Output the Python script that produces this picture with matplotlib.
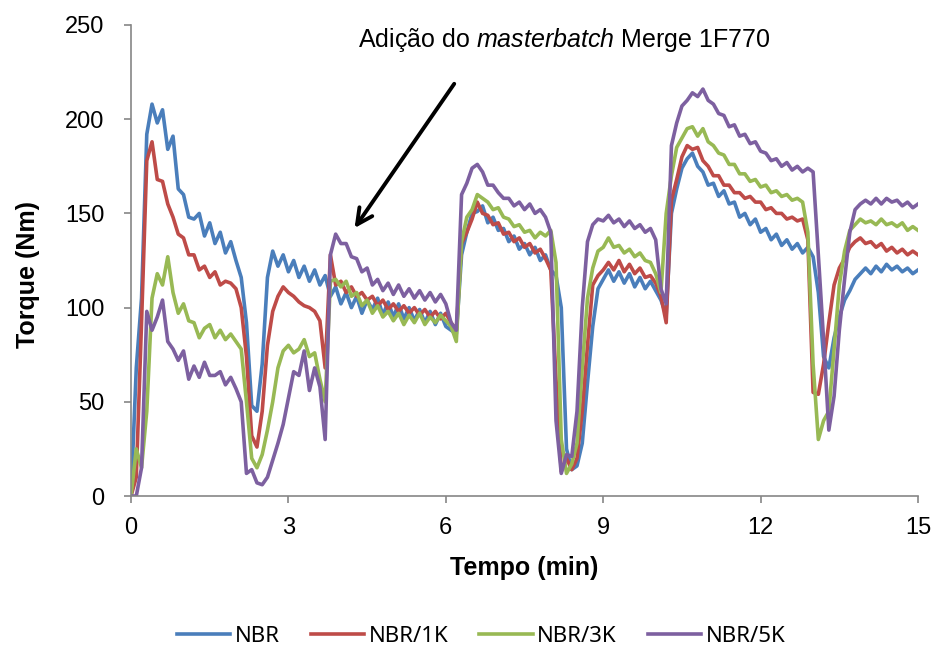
import matplotlib
matplotlib.use("Agg")
import matplotlib.pyplot as plt
import numpy as np

plt.rcParams['font.family'] = ['Liberation Sans', 'DejaVu Sans']
plt.rcParams['mathtext.fontset'] = 'custom'
plt.rcParams['mathtext.it'] = 'Liberation Sans:italic'
plt.rcParams['mathtext.rm'] = 'Liberation Sans'

# tempo (min), amostrado a cada 0,1 min
tempo = np.linspace(0, 15, 151)

nbr = [
    0, 68, 105, 192, 208, 198, 205, 184, 191, 163,
    160, 148, 147, 150, 138, 145, 134, 140, 129, 135,
    125, 116, 92, 48, 45, 70, 116, 130, 122, 128,
    119, 125, 116, 122, 114, 120, 112, 117, 106, 111,
    102, 108, 100, 106, 97, 104, 99, 105, 96, 103,
    95, 102, 94, 100, 93, 99, 92, 98, 91, 97,
    90, 88, 86, 128, 140, 150, 151, 154, 145, 148,
    141, 142, 135, 138, 131, 134, 128, 132, 125, 128,
    120, 117, 100, 25, 14, 16, 28, 60, 90, 110,
    115, 120, 114, 119, 113, 118, 111, 116, 110, 114,
    109, 104, 96, 150, 163, 174, 179, 182, 175, 172,
    165, 166, 159, 162, 155, 156, 148, 150, 144, 147,
    140, 142, 136, 139, 133, 136, 131, 134, 129, 132,
    127, 108, 74, 68, 84, 95, 104, 109, 115, 118,
    121, 118, 122, 119, 123, 120, 122, 119, 121, 118,
    120,
]

nbr_1k = [
    0, 10, 92, 178, 188, 168, 167, 155, 148, 139,
    137, 128, 128, 120, 122, 116, 119, 112, 114, 113,
    110, 100, 74, 32, 26, 45, 80, 98, 106, 111,
    108, 106, 103, 101, 100, 98, 93, 68, 128, 112,
    114, 108, 111, 106, 108, 104, 106, 101, 104, 99,
    102, 98, 101, 97, 100, 96, 99, 95, 98, 94,
    97, 92, 88, 134, 140, 147, 156, 150, 149, 144,
    145, 139, 140, 135, 137, 132, 134, 129, 131, 126,
    120, 62, 13, 20, 14, 20, 45, 80, 112, 117,
    120, 124, 120, 125, 119, 123, 118, 121, 116, 117,
    113, 106, 92, 157, 168, 180, 186, 184, 185, 178,
    175, 170, 170, 165, 165, 161, 161, 158, 159, 156,
    156, 152, 153, 150, 150, 147, 148, 146, 147, 136,
    55, 54, 70, 92, 112, 121, 126, 132, 135, 137,
    134, 135, 132, 134, 130, 132, 129, 131, 128, 130,
    128,
]

nbr_3k = [
    0, 25, 15, 45, 105, 118, 112, 127, 108, 97,
    102, 93, 92, 84, 89, 91, 84, 88, 83, 86,
    82, 78, 50, 20, 15, 22, 35, 50, 68, 77,
    80, 76, 78, 83, 74, 76, 62, 50, 114, 115,
    111, 114, 106, 108, 101, 104, 97, 101, 95, 98,
    93, 97, 91, 96, 92, 97, 91, 95, 92, 96,
    93, 90, 82, 135, 148, 152, 160, 158, 156, 152,
    153, 148, 147, 143, 144, 140, 141, 137, 140, 138,
    141, 124, 30, 12, 17, 28, 68, 105, 121, 130,
    132, 137, 132, 133, 129, 131, 127, 129, 125, 124,
    118, 108, 150, 170, 185, 190, 195, 196, 191, 195,
    188, 186, 182, 181, 176, 176, 171, 171, 167, 168,
    164, 165, 161, 162, 159, 160, 157, 158, 156, 140,
    70, 30, 40, 45, 78, 112, 130, 141, 144, 147,
    145, 146, 144, 147, 144, 145, 143, 145, 141, 143,
    141,
]

nbr_5k = [
    0, 0, 15, 98, 88, 95, 104, 82, 78, 72,
    77, 62, 69, 63, 71, 64, 64, 66, 59, 63,
    57, 50, 12, 14, 7, 6, 10, 19, 28, 38,
    52, 66, 64, 77, 56, 68, 58, 30, 128, 139,
    134, 134, 127, 126, 119, 121, 112, 115, 109, 113,
    107, 112, 106, 110, 105, 109, 104, 108, 103, 107,
    102, 92, 88, 160, 166, 174, 176, 172, 165, 165,
    161, 158, 158, 154, 156, 152, 155, 150, 152, 148,
    140, 40, 12, 22, 21, 45, 100, 135, 144, 147,
    146, 149, 145, 147, 143, 146, 142, 144, 140, 142,
    136, 110, 102, 186, 198, 207, 210, 214, 212, 216,
    210, 208, 203, 202, 196, 197, 191, 192, 187, 188,
    183, 182, 178, 179, 175, 177, 173, 175, 172, 174,
    172, 128, 83, 35, 53, 88, 115, 140, 152, 155,
    157, 155, 158, 155, 158, 156, 157, 154, 156, 153,
    155,
]

series = [
    ("NBR", nbr, '#4A7EBB'),
    ("NBR/1K", nbr_1k, '#BE4B48'),
    ("NBR/3K", nbr_3k, '#98B954'),
    ("NBR/5K", nbr_5k, '#7D60A0'),
]

fig = plt.figure(figsize=(9.34, 6.49), dpi=100)
ax = fig.add_axes([0.1403, 0.2357, 0.8426, 0.7258])

for nome, valori, cor in series:
    ax.plot(tempo, valori, color=cor, linewidth=2.6, label=nome)

ax.set_xlim(0, 15)
ax.set_ylim(0, 250)
ax.set_xticks([0, 3, 6, 9, 12, 15])
ax.set_yticks([0, 50, 100, 150, 200, 250])

for lado in ['top', 'right']:
    ax.spines[lado].set_visible(False)
for lado in ['left', 'bottom']:
    ax.spines[lado].set_color('#868686')
    ax.spines[lado].set_linewidth(1.2)
ax.tick_params(axis='both', colors='#868686', labelcolor='black', labelsize=17,
               length=5, width=1.2)
ax.tick_params(axis='y', pad=14)
ax.tick_params(axis='x', pad=10)

ax.set_xlabel('Tempo (min)', fontsize=18, fontweight='bold')
ax.set_ylabel('Torque (Nm)', fontsize=18, fontweight='bold')
ax.xaxis.set_label_coords(0.5, -0.127)
ax.yaxis.set_label_coords(-0.116, 0.471)

# seta e texto da adição do masterbatch
ax.annotate('', xy=(4.23, 141), xytext=(6.19, 220),
            arrowprops=dict(arrowstyle='->', color='black', lw=2.8,
                            mutation_scale=28))
ax.text(8.25, 242, r'Adição do $\it{masterbatch}$ Merge 1F770',
        fontsize=18, ha='center', va='center', clip_on=False)

fig.legend(loc='center', bbox_to_anchor=(0.515, 0.02), ncol=4, frameon=False,
           handlelength=2.4, handletextpad=0.2, columnspacing=1.4,
           prop={'family': 'Noto Sans', 'size': 16})

fig.savefig('out.png', dpi=100)
